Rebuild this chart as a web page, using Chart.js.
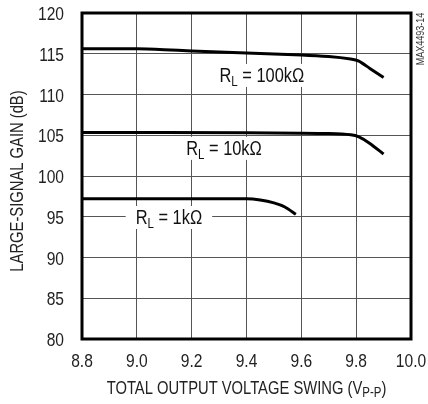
<!DOCTYPE html>
<html>
<head>
<meta charset="utf-8">
<script src="https://cdn.jsdelivr.net/npm/chart.js@4/dist/chart.umd.min.js"></script>
<style>
  html, body { margin: 0; padding: 0; background: #fff; }
  #wrap { width: 428px; height: 404px; position: relative; }
</style>
</head>
<body>
<div id="wrap"><canvas id="c"></canvas></div>
<script>
// swing in Vp-p, gain in dB
const swing100k = [8.8, 9.0, 9.1, 9.2, 9.4, 9.6, 9.7, 9.78, 9.81, 9.85, 9.9];
const gain100k  = [115.6, 115.6, 115.5, 115.35, 115.1, 114.85, 114.65, 114.35, 114.1, 113.2, 112.1];

const swing10k = [8.8, 9.4, 9.6, 9.7, 9.78, 9.81, 9.85, 9.9];
const gain10k  = [105.35, 105.3, 105.25, 105.2, 105.05, 104.8, 104.0, 102.7];

const swing1k = [8.8, 9.4, 9.45, 9.5, 9.54, 9.58];
const gain1k  = [97.2, 97.2, 97.05, 96.7, 96.2, 95.3];

const xTicks = [8.8, 9.0, 9.2, 9.4, 9.6, 9.8, 10.0];
const yTicks = [80, 85, 90, 95, 100, 105, 110, 115, 120];

const curveLabels = [
  { x: 9.456, y: 112.4, sub: '100k' },
  { x: 9.318, y: 103.45, sub: '10k' },
  { x: 9.117, y: 94.97, sub: '1k' }
];

const FONT = '"Liberation Sans", Arial, sans-serif';
const SQ = 0.82; // squeeze to look like a narrow face

const pts = (xs, ys) => xs.map((x, i) => ({ x: x, y: ys[i] }));

const line = (data) => ({
  data: data,
  borderColor: '#000',
  borderWidth: 3,
  pointRadius: 0,
  fill: false,
  tension: 0.2
});

// draw narrow text: parts = [[text, size, dy]]
function narrow(ctx, parts, x, y, align) {
  let w = 0;
  parts.forEach(p => { ctx.font = p[1] + 'px ' + FONT; w += ctx.measureText(p[0]).width; });
  ctx.save();
  ctx.translate(x, y);
  ctx.scale(SQ, 1);
  let x0 = align === 'center' ? -w / 2 : align === 'right' ? -w : 0;
  ctx.textAlign = 'left';
  ctx.textBaseline = 'alphabetic';
  parts.forEach(p => {
    ctx.font = p[1] + 'px ' + FONT;
    ctx.fillText(p[0], x0, p[2] || 0);
    x0 += ctx.measureText(p[0]).width;
  });
  ctx.restore();
  return w * SQ;
}

const decor = {
  id: 'decor',
  afterDatasetsDraw(chart) {
    const ctx = chart.ctx;
    const a = chart.chartArea;
    const xs = chart.scales.x, ys = chart.scales.y;
    ctx.save();

    // curve labels with white boxes
    curveLabels.forEach(l => {
      const cx = xs.getPixelForValue(l.x);
      const cy = ys.getPixelForValue(l.y);
      const parts = [['R', 20, 0], ['L', 14, 4], [' = ' + l.sub + 'Ω', 20, 0]];
      let w = 0;
      parts.forEach(p => { ctx.font = p[1] + 'px ' + FONT; w += ctx.measureText(p[0]).width; });
      w *= SQ;
      ctx.fillStyle = '#fff';
      ctx.fillRect(cx - w / 2 - 10, cy - 11, w + 20, 23);
      ctx.fillStyle = '#111';
      narrow(ctx, parts, cx, cy + 7, 'center');
    });

    // frame
    ctx.strokeStyle = '#000';
    ctx.lineWidth = 3;
    ctx.strokeRect(a.left, a.top, a.right - a.left, a.bottom - a.top);

    // tick labels
    ctx.fillStyle = '#222';
    xs.ticks.forEach(t => {
      narrow(ctx, [[t.value.toFixed(1), 19, 0]], xs.getPixelForValue(t.value), 367, 'center');
    });
    ys.ticks.forEach(t => {
      narrow(ctx, [[String(t.value), 19, 0]], 64, ys.getPixelForValue(t.value) + 7, 'right');
    });

    // x title with subscript
    narrow(ctx, [['TOTAL OUTPUT VOLTAGE SWING (V', 18, 0], ['P-P', 14, 3], [')', 18, 0]],
      (a.left + a.right) / 2, 394, 'center');

    // y title
    ctx.save();
    ctx.translate(23, (a.top + a.bottom) / 2 + 5);
    ctx.rotate(-Math.PI / 2);
    narrow(ctx, [['LARGE-SIGNAL GAIN (dB)', 18, 0]], 0, 0, 'center');
    ctx.restore();

    // part code
    ctx.save();
    ctx.translate(424, 39);
    ctx.rotate(-Math.PI / 2);
    ctx.fillStyle = '#333';
    narrow(ctx, [['MAX4493-14', 11, 0]], 0, 0, 'center');
    ctx.restore();

    ctx.restore();
  }
};

new Chart(document.getElementById('c'), {
  type: 'line',
  data: {
    datasets: [
      line(pts(swing100k, gain100k)),
      line(pts(swing10k, gain10k)),
      line(pts(swing1k, gain1k))
    ]
  },
  options: {
    responsive: true,
    maintainAspectRatio: false,
    animation: false,
    layout: { padding: { left: 0, right: 17, top: 13, bottom: 0 } },
    plugins: { legend: { display: false }, tooltip: { enabled: false } },
    scales: {
      x: {
        type: 'linear',
        min: 8.8,
        max: 10.0,
        afterBuildTicks: s => { s.ticks = xTicks.map(v => ({ value: v })); },
        afterFit: s => { s.height = 65; },
        grid: { color: '#555', lineWidth: 1, drawTicks: false },
        border: { display: false },
        ticks: { display: false }
      },
      y: {
        min: 80,
        max: 120,
        afterBuildTicks: s => { s.ticks = yTicks.map(v => ({ value: v })); },
        afterFit: s => { s.width = 82; },
        grid: { color: '#555', lineWidth: 1, drawTicks: false },
        border: { display: false },
        ticks: { display: false }
      }
    }
  },
  plugins: [decor]
});
</script>
</body>
</html>
